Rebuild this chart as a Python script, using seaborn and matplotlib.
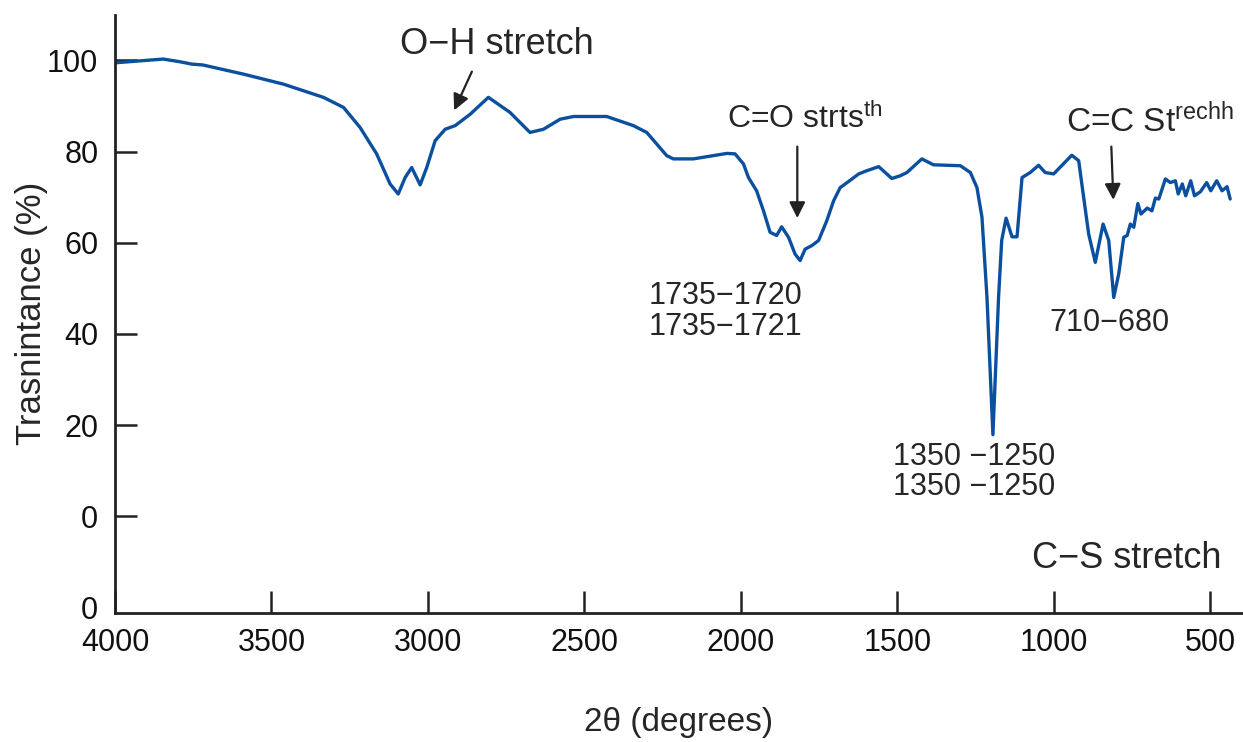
import numpy as np
import pandas as pd
import seaborn as sns
import matplotlib.pyplot as plt

# spectrum (wavenumber, transmittance %)
wavenumber = [3995, 3846, 3792, 3755, 3719, 3590, 3462, 3334, 3270, 3217, 3164, 3121,
              3095, 3073, 3052, 3025, 3004, 2977, 2945, 2913, 2865, 2807, 2738, 2674,
              2631, 2578, 2535, 2429, 2344, 2301, 2237, 2216, 2152, 2045, 2019, 1992,
              1976, 1950, 1928, 1907, 1886, 1870, 1848, 1827, 1811, 1795, 1773, 1752,
              1726, 1704, 1683, 1651, 1624, 1598, 1560, 1518, 1491, 1470, 1422, 1385,
              1299, 1267, 1246, 1230, 1214, 1195, 1177, 1167, 1153, 1134, 1118, 1102,
              1076, 1049, 1028, 1001, 943, 921, 905, 889, 868, 843, 825, 809,
              793, 777, 766, 756, 745, 732, 722, 702, 687, 676, 665, 644,
              628, 612, 603, 590, 579, 563, 551, 532, 512, 499, 480, 463,
              447, 437]
transmittance = [99.5, 100.3, 99.7, 99.2, 99.0, 97.0, 94.8, 91.9, 89.7, 85.3, 79.5, 72.9,
                 70.7, 74.3, 76.5, 72.7, 76.5, 82.4, 84.9, 85.7, 88.2, 91.9, 88.6, 84.2,
                 84.9, 87.1, 87.7, 87.7, 85.7, 84.2, 79.1, 78.4, 78.4, 79.6, 79.5, 77.3,
                 74.3, 71.4, 67.0, 62.3, 61.6, 63.5, 61.2, 57.5, 56.1, 58.6, 59.4, 60.5,
                 64.8, 69.2, 72.1, 73.7, 75.1, 75.8, 76.7, 74.1, 74.7, 75.4, 78.4, 77.1,
                 76.9, 75.4, 72.1, 65.6, 48.0, 17.9, 48.0, 60.5, 65.4, 61.3, 61.3, 74.3,
                 75.4, 77.0, 75.4, 75.1, 79.2, 78.0, 69.9, 61.9, 55.7, 64.1, 60.5, 48.0,
                 53.2, 61.2, 61.6, 64.1, 63.4, 68.6, 66.3, 67.6, 67.0, 69.8, 69.6, 74.0,
                 73.2, 73.6, 70.7, 72.9, 70.3, 73.6, 70.3, 71.2, 73.2, 71.4, 73.6, 71.4,
                 72.3, 69.6]

y_ticks = [-20, 0, 20, 40, 60, 80, 100]
y_tick_labels = ["0", "0", "20", "40", "60", "80", "100"]
x_ticks = [4000, 3500, 3000, 2500, 2000, 1500, 1000, 500]

sns.set_style("ticks")
plt.rcParams['font.family'] = ['Liberation Sans', 'DejaVu Sans']
plt.rcParams['mathtext.fontset'] = 'custom'
plt.rcParams['mathtext.rm'] = 'Liberation Sans'
plt.rcParams['mathtext.it'] = 'Liberation Sans'

df = pd.DataFrame({"wn": wavenumber, "T": transmittance})

fig = plt.figure(figsize=(12.43, 7.42), dpi=100)
ax = fig.add_axes([0.0925, 0.174, 0.907, 0.806])
sns.lineplot(data=df, x="wn", y="T", ax=ax, color="#0b4f9f", linewidth=2.4)

ax.set_xlim(4000, 398)
ax.set_ylim(-21.2, 110)
ax.set_xticks(x_ticks)
ax.set_yticks(y_ticks)
ax.set_yticklabels(y_tick_labels)
ax.tick_params(axis='both', direction='in', length=16, width=1.8, colors='#222222',
               labelsize=22, labelcolor='#111111')
ax.tick_params(axis='x', pad=11)
ax.tick_params(axis='y', pad=12)
ax.yaxis.get_major_ticks()[0].tick1line.set_visible(False)
for s in ['top', 'right']:
    ax.spines[s].set_visible(False)
for s in ['left', 'bottom']:
    ax.spines[s].set_linewidth(2)
    ax.spines[s].set_color('#222222')

ax.set_xlabel("2θ (degrees)", fontsize=24, labelpad=35)
ax.set_ylabel("Trasnintance (%)", fontsize=25, labelpad=-1)

ax.text(2779, 103.6, "O−H stretch", fontsize=26, ha='center', va='center')
ax.annotate("", xy=(2920, 88.5), xytext=(2856, 98.1),
            arrowprops=dict(arrowstyle='-|>', color='#222222', lw=1.6, mutation_scale=24))
ax.text(1795, 87.2, r"C=O strts$^{\mathrm{th}}$", fontsize=23, ha='center', va='center')
ax.annotate("", xy=(1820, 64.8), xytext=(1820, 81.7),
            arrowprops=dict(arrowstyle='-|>', color='#222222', lw=1.6, mutation_scale=24))
ax.text(692, 86.7, r"C=C St$^{\mathrm{rechh}}$", fontsize=24, ha='center', va='center')
ax.annotate("", xy=(810, 68.8), xytext=(817, 81.7),
            arrowprops=dict(arrowstyle='-|>', color='#222222', lw=1.6, mutation_scale=24))

ax.text(2050, 48.4, "1735−1720", fontsize=22, ha='center', va='center')
ax.text(2050, 41.6, "1735−1721", fontsize=22, ha='center', va='center')
ax.text(1255, 13.1, "1350 −1250", fontsize=22, ha='center', va='center')
ax.text(1255, 6.4, "1350 −1250", fontsize=22, ha='center', va='center')
ax.text(823, 42.5, "710−680", fontsize=22, ha='center', va='center')
ax.text(766, -9.2, "C−S stretch", fontsize=26, ha='center', va='center')

plt.savefig("out.png", dpi=100)
